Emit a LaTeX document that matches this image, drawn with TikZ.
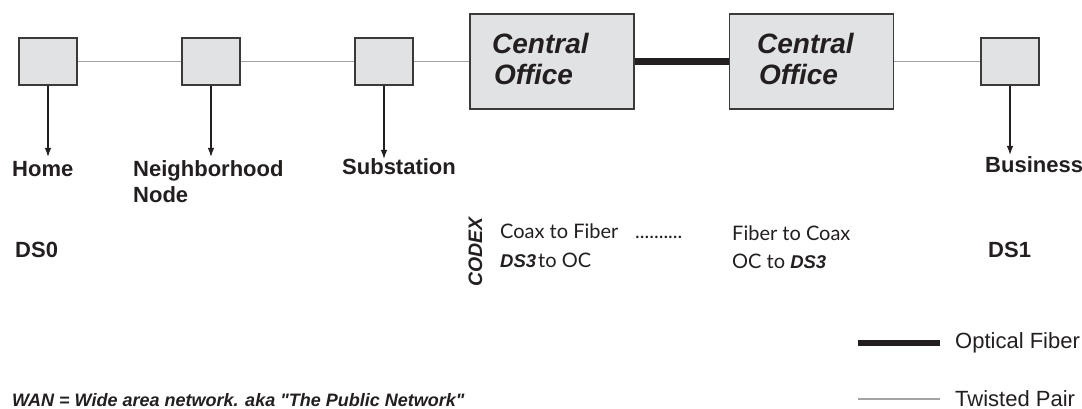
\documentclass[tikz,border=0pt]{standalone}
\usepackage{fontspec}
\setmainfont{Liberation Sans}
\newfontfamily\myriad{Lato}
\newfontfamily\helv{Liberation Sans}
\usetikzlibrary{arrows.meta}
\definecolor{boxfill}{HTML}{E1E2E4}
\definecolor{boxline}{HTML}{3A3A3A}
\definecolor{tp}{HTML}{A3A3A3}
\definecolor{ink}{HTML}{231F20}
\begin{document}
\begin{tikzpicture}[x=1pt,y=-1pt,
  smallbox/.style={draw=boxline, fill=boxfill, line width=1.2pt, minimum width=58pt, minimum height=47pt, inner sep=0pt},
  cobox/.style={draw=boxline, fill=boxfill, line width=1.2pt, minimum width=164pt, minimum height=95pt, inner sep=0pt},
  twisted/.style={draw=tp, line width=1.5pt},
  fiber/.style={draw=ink, line width=6.5pt},
  downarrow/.style={draw=ink, line width=1.3pt, -{Latex[length=9pt,width=6.5pt]}},
  lbl/.style={font=\fontsize{22}{26}\selectfont\bfseries, text=ink, inner sep=0pt, anchor=base west},
  cotext/.style={font=\fontsize{28}{31}\selectfont\bfseries\itshape, text=ink, inner sep=0pt, anchor=base west},
  note/.style={font=\myriad\fontsize{20}{22}\selectfont, text=ink, inner sep=0pt, anchor=base west},
  legend/.style={font=\fontsize{22}{26}\selectfont, text=ink, inner sep=0pt, anchor=base west},
  wan/.style={font=\helv\fontsize{18}{22}\selectfont\bfseries\itshape, text=ink, inner sep=0pt, anchor=base west}
]
\useasboundingbox (0,0) rectangle (1082,409);
\newcommand{\dsthree}{{\rmfamily\fontsize{18.5}{20}\selectfont\bfseries\itshape DS3}}

% boxes
\node[smallbox] (home) at (48,61.5) {};
\node[smallbox] (nbhd) at (211,61.5) {};
\node[smallbox] (subst) at (384,61.5) {};
\node[cobox] (co1) at (552,61.5) {};
\node[cobox] (co2) at (811.5,61.5) {};
\node[smallbox] (bus) at (1010,61.5) {};

% connectors
\draw[twisted] (home) -- (nbhd);
\draw[twisted] (nbhd) -- (subst);
\draw[twisted] (subst) -- (co1);
\draw[fiber] (co1) -- (co2);
\draw[twisted] (co2) -- (bus);

% central office texts
\node[cotext] (co1a) at (492,54) {Central};
\node[cotext] (co1b) at (494,85) {Office};
\node[cotext] (co2a) at (757,54) {Central};
\node[cotext] (co2b) at (759,85) {Office};

% arrows
\coordinate (homeend) at (48,157);
\coordinate (nbhdend) at (211,157);
\coordinate (substend) at (384,159);
\coordinate (busend) at (1010,155);
\draw[downarrow] (home) -- (homeend);
\draw[downarrow] (nbhd) -- (nbhdend);
\draw[downarrow] (subst) -- (substend);
\draw[downarrow] (bus) -- (busend);

% labels
\node[lbl] (lhome) at (12,177) {Home};
\node[lbl] (lnb1) at (133,176) {Neighborhood};
\node[lbl] (lnb2) at (133,202) {Node};
\node[lbl] (lsub) at (342,175) {Substation};
\node[lbl] (lbus) at (985,173) {Business};
\node[lbl] (ds0) at (15,257) {DS0};
\node[lbl] (ds1) at (988,257) {DS1};

% codex notes
\node[font=\fontsize{19.5}{22}\selectfont\bfseries\itshape, text=ink, inner sep=0pt, anchor=base west, rotate=90] (codex) at (482,287) {CODEX};
\node[note] (c2f) at (500,238) {Coax to Fiber};
\node[note] (dots) at (635,238) {..........};
\node[note] (ds3oc) at (500,267) {\dsthree\hspace{2pt}to OC};
\node[note] (f2c) at (732,240) {Fiber to Coax};
\node[note] (ocds3) at (732,268) {OC to \dsthree};

% legend
\coordinate (lf1) at (858,343);
\coordinate (lf2) at (940,343);
\coordinate (lt1) at (858,399);
\coordinate (lt2) at (940,399);
\draw[fiber] (lf1) -- (lf2);
\draw[twisted] (lt1) -- (lt2);
\node[legend] (lof) at (955,348) {Optical Fiber};
\node[legend] (ltp) at (955,406) {Twisted Pair};

% footnote
\node[wan] (wan) at (12,406) {WAN = Wide area network. aka "The Public Network"};
\end{tikzpicture}
\end{document}
